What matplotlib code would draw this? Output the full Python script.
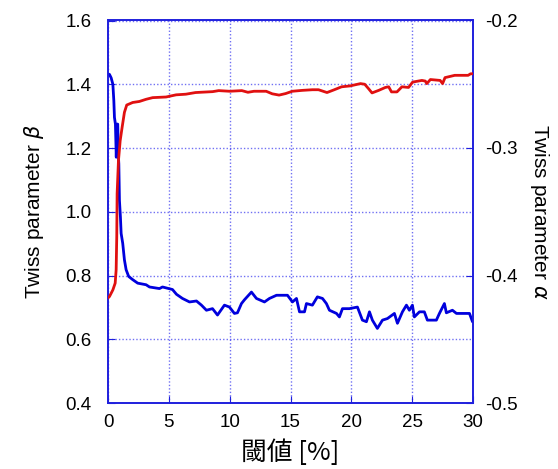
import matplotlib
matplotlib.use("Agg")
import matplotlib.pyplot as plt

# threshold [%] and Twiss beta (blue, left axis)
beta_x = [0.0, 0.12, 0.26, 0.40, 0.48, 0.53, 0.61, 0.68, 0.74, 0.80, 0.86, 0.89, 0.94, 1.02, 1.08,
          1.21, 1.35, 1.49, 1.70, 2.03, 2.44, 3.13, 3.41, 4.23, 4.48, 5.30, 5.63, 6.12, 6.70, 7.27,
          7.68, 8.09, 8.59, 9.00, 9.57, 9.98, 10.39, 10.64, 10.97, 11.22, 11.79, 12.20, 12.86,
          13.27, 13.85, 14.34, 14.75, 15.16, 15.49, 15.74, 16.15, 16.31, 16.80, 17.21, 17.63,
          17.95, 18.20, 18.78, 19.02, 19.27, 19.84, 20.50, 20.91, 21.24, 21.49, 21.73, 22.14,
          22.56, 22.97, 23.54, 23.79, 24.20, 24.53, 24.77, 25.02, 25.18, 25.60, 26.00, 26.25,
          26.99, 27.24, 27.65, 27.81, 28.31, 28.64, 29.71, 29.96, 30.0]
beta_y = [1.43, 1.431, 1.42, 1.40, 1.348, 1.296, 1.275, 1.171, 1.275, 1.275, 1.171, 1.15, 1.036,
          0.984, 0.932, 0.901, 0.849, 0.818, 0.797, 0.787, 0.776, 0.771, 0.764, 0.759, 0.764,
          0.756, 0.741, 0.728, 0.717, 0.720, 0.707, 0.691, 0.696, 0.676, 0.707, 0.701, 0.681,
          0.683, 0.712, 0.724, 0.748, 0.728, 0.717, 0.728, 0.738, 0.738, 0.738, 0.717, 0.728,
          0.686, 0.686, 0.712, 0.707, 0.733, 0.728, 0.712, 0.691, 0.681, 0.670, 0.696, 0.696,
          0.701, 0.660, 0.655, 0.686, 0.660, 0.634, 0.660, 0.665, 0.681, 0.650, 0.686, 0.707,
          0.691, 0.707, 0.670, 0.686, 0.686, 0.660, 0.660, 0.681, 0.712, 0.683, 0.691, 0.681,
          0.681, 0.655, 0.655]

# threshold [%] and Twiss alpha (red, right axis)
alpha_x = [0.0, 0.12, 0.40, 0.59, 0.67, 0.72, 0.75, 0.86, 1.00, 1.16, 1.35, 1.54, 2.03, 2.58,
           3.13, 3.67, 4.77, 5.60, 6.40, 7.20, 8.60, 9.10, 10.0, 11.0, 11.5, 12.0, 13.0, 13.5,
           14.06, 14.6, 15.15, 15.97, 16.8, 17.3, 18.0, 18.6, 19.2, 19.9, 20.75, 21.1, 21.4,
           21.7, 22.25, 22.8, 23.07, 23.3, 23.75, 24.16, 24.7, 25.04, 25.8, 26.08, 26.2, 26.5,
           27.3, 27.5, 27.7, 28.5, 29.6, 29.8, 30.0]
alpha_y = [-0.4175, -0.4165, -0.4113, -0.406, -0.3955, -0.3695, -0.3358, -0.3098, -0.2943,
           -0.2838, -0.272, -0.2663, -0.2643, -0.2635, -0.2618, -0.2605, -0.260, -0.2583,
           -0.2578, -0.2565, -0.2558, -0.255, -0.2555, -0.255, -0.2563, -0.2555, -0.2555,
           -0.2575, -0.2585, -0.2573, -0.2555, -0.2548, -0.2543, -0.2543, -0.2565, -0.2543,
           -0.252, -0.2513, -0.2495, -0.250, -0.2533, -0.2568, -0.2548, -0.2525, -0.252,
           -0.256, -0.256, -0.252, -0.2525, -0.2483, -0.247, -0.2475, -0.2495, -0.2463,
           -0.247, -0.2495, -0.2448, -0.243, -0.243, -0.2418, -0.2418]

x_ticks = [0, 5, 10, 15, 20, 25, 30]
beta_ticks = [0.4, 0.6, 0.8, 1.0, 1.2, 1.4, 1.6]
alpha_ticks = [-0.5, -0.4, -0.3, -0.2]

plt.rcParams['font.family'] = ['Liberation Sans', 'Noto Sans CJK JP', 'DejaVu Sans']

fig = plt.figure(figsize=(5.58, 4.69), dpi=100)
ax = fig.add_axes([108 / 558, 1 - 403 / 469, (473 - 108) / 558, (403 - 20.5) / 469])
ax2 = ax.twinx()

axis_blue = '#1f1fdd'
ax.plot(beta_x, beta_y, color='#0000dd', lw=2.0, zorder=3)
ax2.plot(alpha_x, alpha_y, color='#e01010', lw=2.0, zorder=3)

ax.set_xlim(0, 30)
ax.set_ylim(0.4, 1.6)
ax2.set_ylim(-0.5, -0.2)
ax.set_xticks(x_ticks)
ax.set_yticks(beta_ticks)
ax.set_yticklabels([f"{v:.1f}" for v in beta_ticks])
ax2.set_yticks(alpha_ticks)
ax2.set_yticklabels([f"{v:.1f}" for v in alpha_ticks])

ax.grid(True, color='#3333ee', linestyle=(0, (1, 1.5)), linewidth=1.0, alpha=0.7)

for a in (ax, ax2):
    for s in a.spines.values():
        s.set_color(axis_blue)
        s.set_linewidth(1.2)
ax.tick_params(axis='both', direction='in', length=5, color=axis_blue, labelsize=13.5, pad=8)
ax.tick_params(axis='y', pad=12)
ax2.tick_params(axis='y', direction='in', length=5, color=axis_blue, labelsize=13.5, pad=9)

ax.set_xlabel('閾値 [%]', fontsize=18.5, labelpad=6, family=['Noto Sans CJK JP', 'DejaVu Sans'])
ax.set_ylabel(r'Twiss parameter $\beta$', fontsize=15, labelpad=14)
ax2.set_ylabel(r'Twiss parameter $\alpha$', fontsize=15, rotation=270, labelpad=24)

fig.savefig('out.png', dpi=100)
